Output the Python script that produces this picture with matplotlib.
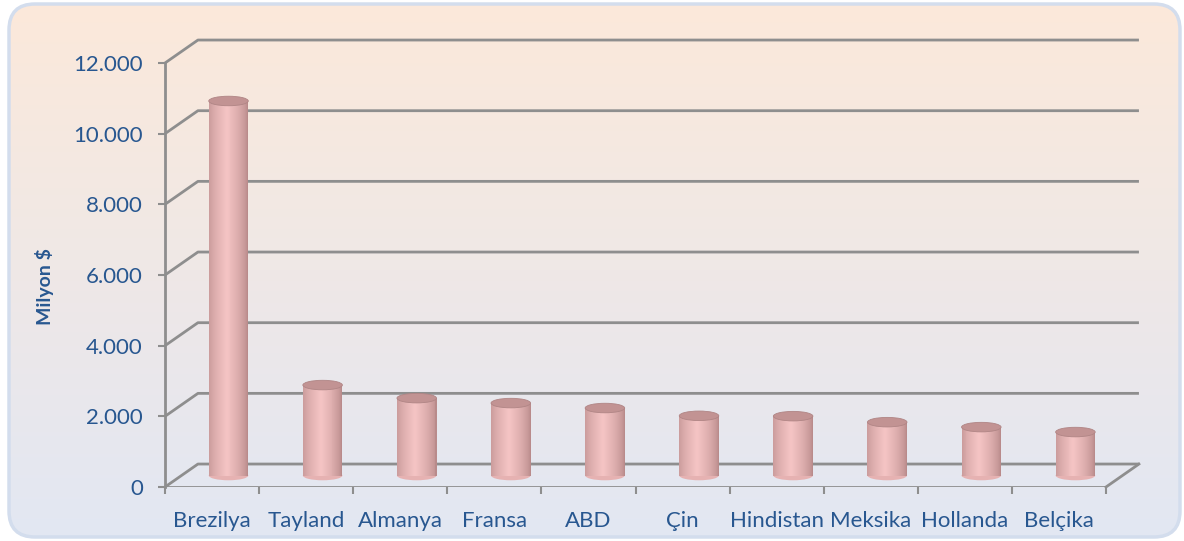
import numpy as np
import matplotlib
matplotlib.use("Agg")
import matplotlib.pyplot as plt
from matplotlib.patches import Rectangle, Ellipse, FancyBboxPatch
from matplotlib.colors import to_rgb

# ---- data ----
categories = ["Brezilya", "Tayland", "Almanya", "Fransa", "ABD", "Çin",
              "Hindistan", "Meksika", "Hollanda", "Belçika"]
values = [10600, 2560, 2190, 2050, 1910, 1690, 1680, 1510, 1370, 1230]
yticks = [0, 2000, 4000, 6000, 8000, 10000, 12000]
ytick_labels = ["0", "2.000", "4.000", "6.000", "8.000", "10.000", "12.000"]
ylabel = "Milyon $"

# ---- style ----
W, H = 1184, 541
TXT = "#285790"
GRID = "#8E8E8E"
FONT = "Lato"
DX = 0.35      # depth offset in category units
DY = 650       # depth offset in value units
BAR_W = 0.42
ELL_H = 270

fig = plt.figure(figsize=(W / 100, H / 100), dpi=100)
fig.patch.set_facecolor("white")

# background with rounded frame
bg = fig.add_axes([0, 0, 1, 1])
bg.set_xlim(0, W); bg.set_ylim(H, 0); bg.axis("off")
top = np.array(to_rgb("#FCE9DA")); bot = np.array(to_rgb("#E2E7F3"))
t = np.linspace(0, 1, 256)[:, None, None]
grad = top * (1 - t) + bot * t
grad = np.repeat(grad, 2, axis=1)
im = bg.imshow(grad, extent=(0, W, H, 0), aspect="auto", zorder=0)
frame = FancyBboxPatch((9, 4), W - 13, H - 8,
                       boxstyle="round,pad=0,rounding_size=26",
                       facecolor="none", edgecolor="#D3DDED", lw=2.5, zorder=1)
bg.add_patch(frame)
im.set_clip_path(frame)

# main axes
x0, x1, y0, y1 = 165, 1106, 487, 63
ax = fig.add_axes([x0 / W, (H - y0) / H, (x1 - x0) / W, (y0 - y1) / H])
ax.set_xlim(0, 10); ax.set_ylim(0, 12000)
ax.patch.set_alpha(0)
for s in ["top", "right", "bottom"]:
    ax.spines[s].set_visible(False)
ax.spines["left"].set_color(GRID); ax.spines["left"].set_linewidth(2)

n = len(categories)
# gridlines on back wall + diagonal connectors
for v in yticks:
    ax.plot([0, DX, n + DX], [v, v + DY, v + DY], color=GRID, lw=2,
            clip_on=False, zorder=1, solid_capstyle="butt")
# floor right edge
ax.plot([n, n + DX], [0, DY], color=GRID, lw=2, clip_on=False, zorder=1)

# cylinders
edge_c = np.array([0.70, 0.52, 0.52])
mid_c = np.array([0.96, 0.77, 0.77])
top_c = "#C29393"
strips = 40
for i, v in enumerate(values):
    cx = i + 0.5 + DX / 2
    base = DY / 2
    left = cx - BAR_W / 2
    sw = BAR_W / strips
    ax.add_patch(Ellipse((cx, base), BAR_W, ELL_H, facecolor="#E6B2B2",
                         edgecolor="none", zorder=3, clip_on=False))
    for k in range(strips):
        u = (k + 0.5) / strips
        w = 1 - abs(u - 0.45) / 0.55
        w = np.clip(w, 0, 1) ** 0.6
        c = edge_c * (1 - w) + mid_c * w
        ax.add_patch(Rectangle((left + k * sw, base), sw * 1.05, v,
                               facecolor=c, edgecolor="none", zorder=4,
                               clip_on=False))
    ax.add_patch(Ellipse((cx, base + v), BAR_W, ELL_H, facecolor=top_c,
                         edgecolor="#B08585", lw=0.6, zorder=5, clip_on=False))

# ticks
ax.set_yticks(yticks)
ax.set_yticklabels(ytick_labels, fontsize=16, color=TXT, family=FONT)
ax.tick_params(axis="y", direction="out", length=5, width=1.5, color=GRID, pad=11)
ax.set_xticks([i + 0.5 for i in range(n)])
ax.set_xticklabels(categories, fontsize=16, color=TXT, family=FONT)
ax.set_xticks(range(n + 1), minor=True)
ax.tick_params(axis="x", which="major", length=0, pad=17)
ax.tick_params(axis="x", which="minor", direction="out", length=5, width=1.5, color=GRID)
ax.axhline(0, color=GRID, lw=2, zorder=1)

fig.text(45 / W, 1 - 287 / H, ylabel, rotation=90, ha="center", va="center",
         fontsize=14, fontweight="bold", color=TXT, family=FONT)

fig.savefig("out.png", dpi=100)
